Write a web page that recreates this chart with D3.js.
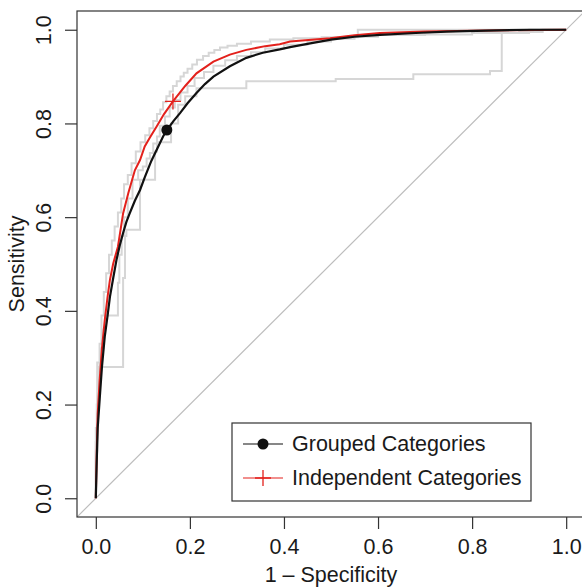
<!DOCTYPE html>
<html lang="en">
<head>
    <meta charset="UTF-8">
    <title>ROC curves</title>
    <script src="https://cdn.jsdelivr.net/npm/d3@7/dist/d3.min.js"></script>
    <style>
        body { margin: 0; background: white; }
        text {
            font-family: "Liberation Sans", Arial, sans-serif;
            fill: #1a1a1a;
        }
    </style>
</head>
<body>
<script>
    const width = 582;
    const height = 588;
    const fontSize = 21.5;

    // axis ticks
    const xTicks = [0, 0.2, 0.4, 0.6, 0.8, 1.0];
    const yTicks = [0, 0.2, 0.4, 0.6, 0.8, 1.0];

    // main ROC curves, [1 - specificity, sensitivity]
    const grouped = [[0,0],[0.002,0.08],[0.004,0.15],[0.0085,0.216],[0.013,0.28],[0.019,0.345],[0.025,0.39],
        [0.030,0.43],[0.037,0.47],[0.044,0.509],[0.051,0.54],[0.058,0.566],[0.065,0.59],[0.072,0.608],
        [0.083,0.635],[0.094,0.658],[0.104,0.685],[0.118,0.72],[0.13,0.745],[0.143,0.772],[0.151,0.786],
        [0.165,0.805],[0.179,0.822],[0.195,0.843],[0.214,0.865],[0.232,0.884],[0.25,0.90],[0.285,0.922],
        [0.32,0.94],[0.355,0.951],[0.391,0.958],[0.413,0.963],[0.45,0.97],[0.5,0.979],[0.55,0.985],
        [0.604,0.989],[0.68,0.993],[0.746,0.996],[0.83,0.998],[0.923,1.0],[1,1]];
    const independent = [[0,0],[0.002,0.1],[0.004,0.18],[0.008,0.25],[0.013,0.32],[0.019,0.38],[0.025,0.43],
        [0.030,0.466],[0.037,0.501],[0.047,0.537],[0.058,0.608],[0.069,0.651],[0.083,0.70],[0.094,0.722],
        [0.104,0.751],[0.115,0.77],[0.129,0.793],[0.145,0.82],[0.164,0.847],[0.19,0.88],[0.214,0.907],
        [0.25,0.932],[0.285,0.947],[0.32,0.957],[0.36,0.965],[0.391,0.969],[0.413,0.975],[0.498,0.982],
        [0.55,0.988],[0.604,0.993],[0.7,0.996],[0.8,0.998],[1,1]];

    // operating points
    const groupedPoint = [0.151, 0.786];
    const independentPoint = [0.164, 0.847];

    // light gray step curves
    const grayUpper = [[0,0],[0.002,0.12],[0.004,0.2],[0.008,0.27],[0.012,0.33],[0.017,0.39],[0.022,0.44],
        [0.028,0.48],[0.034,0.52],[0.04,0.55],[0.047,0.58],[0.054,0.61],[0.06,0.64],[0.068,0.67],[0.076,0.69],
        [0.085,0.715],[0.095,0.74],[0.105,0.76],[0.114,0.775],[0.122,0.79],[0.13,0.805],[0.137,0.82],
        [0.143,0.83],[0.15,0.845],[0.157,0.858],[0.164,0.868],[0.172,0.88],[0.18,0.89],[0.187,0.9],
        [0.195,0.908],[0.205,0.917],[0.215,0.926],[0.228,0.936],[0.24,0.944],[0.252,0.951],[0.264,0.957],
        [0.28,0.962],[0.3,0.966],[0.33,0.97],[0.37,0.975],[0.42,0.979],[0.48,0.982],[0.557,0.984],
        [0.557,1.0],[1,1]];
    const grayMid = [[0,0],[0.003,0.15],[0.009,0.29],[0.016,0.32],[0.02,0.36],[0.037,0.39],[0.047,0.39],
        [0.05,0.46],[0.055,0.52],[0.06,0.56],[0.068,0.6],[0.078,0.64],[0.09,0.68],[0.1,0.7],[0.108,0.708],
        [0.115,0.725],[0.122,0.737],[0.13,0.757],[0.136,0.772],[0.147,0.795],[0.157,0.815],[0.168,0.834],
        [0.18,0.85],[0.195,0.866],[0.21,0.88],[0.23,0.897],[0.25,0.91],[0.275,0.923],[0.3,0.935],
        [0.33,0.944],[0.36,0.952],[0.4,0.96],[0.45,0.968],[0.5,0.975],[0.55,0.981],[0.6,0.985],
        [0.7,0.989],[0.8,0.99],[0.9,0.993],[0.95,0.995],[1,1]];
    const grayLow = [[0,0],[0.003,0.1],[0.005,0.18],[0.005,0.28],[0.058,0.28],[0.058,0.42],[0.062,0.47],
        [0.065,0.56],[0.094,0.573],[0.094,0.658],[0.126,0.68],[0.13,0.74],[0.16,0.76],[0.175,0.8],
        [0.19,0.84],[0.214,0.858],[0.22,0.875],[0.32,0.875],[0.32,0.89],[0.51,0.89],[0.51,0.895],
        [0.675,0.895],[0.675,0.905],[0.838,0.905],[0.838,0.912],[0.863,0.912],[0.863,0.993],
        [0.921,0.993],[0.921,1],[1,1]];

    const legendLabels = ["Grouped Categories", "Independent Categories"];

    const pLeft = 77, pRight = 585, pTop = 11, pBottom = 517;

    const svg = d3.select("body").append("svg")
            .attr("width", width).attr("height", height);

    const x = d3.scaleLinear().domain([-0.04, 1.04]).range([pLeft, pRight]);
    const y = d3.scaleLinear().domain([-0.04, 1.04]).range([pBottom, pTop]);

    svg.append("clipPath").attr("id", "plotclip")
        .append("rect")
        .attr("x", pLeft).attr("y", pTop)
        .attr("width", pRight - pLeft).attr("height", pBottom - pTop);

    const plot = svg.append("g").attr("clip-path", "url(#plotclip)");

    // chance diagonal
    plot.append("line")
        .attr("x1", x(-0.04)).attr("y1", y(-0.04))
        .attr("x2", x(1.04)).attr("y2", y(1.04))
        .attr("stroke", "#bdbdbd").attr("stroke-width", 1.2);

    const stepLine = d3.line()
            .x(d => x(d[0])).y(d => y(d[1]))
            .curve(d3.curveStepBefore);
    const line = d3.line()
            .x(d => x(d[0])).y(d => y(d[1]));

    plot.selectAll("path.gray")
        .data([grayUpper, grayMid, grayLow])
        .enter().append("path")
        .attr("class", "gray")
        .attr("d", stepLine)
        .attr("fill", "none")
        .attr("stroke", "#d6d6d6")
        .attr("stroke-width", 2);

    plot.append("path")
        .attr("d", line(independent))
        .attr("fill", "none").attr("stroke", "#e3211c").attr("stroke-width", 2);

    plot.append("path")
        .attr("d", line(grouped))
        .attr("fill", "none").attr("stroke", "#111").attr("stroke-width", 2.2);

    plot.append("circle")
        .attr("cx", x(groupedPoint[0])).attr("cy", y(groupedPoint[1]))
        .attr("r", 5.5).attr("fill", "#111");

    function drawPlus(g, cx, cy, s) {
        g.append("path")
            .attr("d", `M${cx - s},${cy}H${cx + s}M${cx},${cy - s}V${cy + s}`)
            .attr("stroke", "#e3211c").attr("stroke-width", 1.3).attr("fill", "none");
    }
    drawPlus(plot, x(independentPoint[0]), y(independentPoint[1]), 8);

    // box
    svg.append("rect")
        .attr("x", pLeft).attr("y", pTop)
        .attr("width", pRight - pLeft).attr("height", pBottom - pTop)
        .attr("fill", "none").attr("stroke", "#333").attr("stroke-width", 1.2);

    // axes
    const fmt = d3.format(".1f");
    const xAxis = svg.append("g")
        .attr("transform", `translate(0,${pBottom})`)
        .call(d3.axisBottom(x).tickValues(xTicks).tickFormat(fmt).tickSize(12).tickPadding(10));
    xAxis.select(".domain").remove();
    xAxis.selectAll("line").attr("stroke", "#333").attr("stroke-width", 1.2);
    xAxis.selectAll("text").attr("font-size", fontSize).attr("fill", "#1a1a1a")
        .attr("font-family", "Liberation Sans, Arial, sans-serif");

    const yAxis = svg.append("g")
        .attr("transform", `translate(${pLeft},0)`)
        .call(d3.axisLeft(y).tickValues(yTicks).tickFormat(fmt).tickSize(12).tickPadding(0));
    yAxis.select(".domain").remove();
    yAxis.selectAll("line").attr("stroke", "#333").attr("stroke-width", 1.2);
    yAxis.selectAll("text")
        .attr("font-size", fontSize).attr("fill", "#1a1a1a")
        .attr("font-family", "Liberation Sans, Arial, sans-serif")
        .attr("x", null).attr("dy", null)
        .attr("text-anchor", "middle")
        .attr("transform", "translate(-33,0) rotate(-90)")
        .attr("dominant-baseline", "central");

    svg.append("text")
        .attr("x", x(0.5)).attr("y", 582)
        .attr("text-anchor", "middle").attr("font-size", fontSize)
        .text("1 \u2013 Specificity");

    svg.append("text")
        .attr("transform", `translate(17,${y(0.5)}) rotate(-90)`)
        .attr("text-anchor", "middle").attr("dominant-baseline", "central")
        .attr("font-size", fontSize)
        .text("Sensitivity");

    // legend
    const lg = svg.append("g");
    lg.append("rect")
        .attr("x", 232).attr("y", 423).attr("width", 299).attr("height", 78)
        .attr("fill", "white").attr("stroke", "#333").attr("stroke-width", 1.2);
    const rows = [444, 478];
    lg.append("line").attr("x1", 243).attr("x2", 283).attr("y1", rows[0]).attr("y2", rows[0])
        .attr("stroke", "#111").attr("stroke-width", 1.2);
    lg.append("circle").attr("cx", 263).attr("cy", rows[0]).attr("r", 5.5).attr("fill", "#111");
    lg.append("line").attr("x1", 243).attr("x2", 283).attr("y1", rows[1]).attr("y2", rows[1])
        .attr("stroke", "#e3211c").attr("stroke-width", 1.2);
    drawPlus(lg, 263, rows[1], 8);
    lg.selectAll("text.leg")
        .data(legendLabels)
        .enter().append("text")
        .attr("class", "leg")
        .attr("x", 292).attr("y", (d, i) => rows[i])
        .attr("dominant-baseline", "central")
        .attr("font-size", fontSize)
        .text(d => d);
</script>
</body>
</html>
